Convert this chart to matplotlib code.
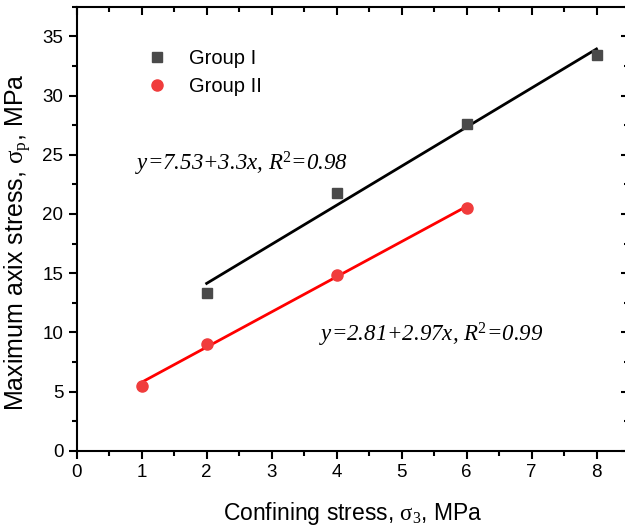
import matplotlib
matplotlib.use("Agg")
import matplotlib.pyplot as plt
import numpy as np
from matplotlib.ticker import MultipleLocator

plt.rcParams["font.family"] = ["Liberation Sans", "DejaVu Sans"]
plt.rcParams["mathtext.fontset"] = "custom"
plt.rcParams["mathtext.rm"] = "Liberation Serif"
plt.rcParams["mathtext.it"] = "Liberation Serif:italic"

# measured points
x_g1 = [2, 4, 6, 8]
y_g1 = [13.3, 21.8, 27.6, 33.4]
x_g2 = [1, 2, 4, 6]
y_g2 = [5.5, 9.0, 14.8, 20.5]

# linear fits: intercept, slope, R^2
fit_g1 = (7.53, 3.3, 0.98)
fit_g2 = (2.81, 2.97, 0.99)

fig = plt.figure(figsize=(6.25, 5.28), dpi=100)
ax = fig.add_axes([0.1227, 0.1464, 0.8837, 0.8409])

ax.plot(x_g1, y_g1, "s", color="#4a4a4a", markersize=7.5, label="Group I", zorder=3)
ax.plot(x_g2, y_g2, "o", color="#f03c3c", markersize=8, label="Group II", zorder=3)

xs = np.array([min(x_g1), max(x_g1)])
ax.plot(xs, fit_g1[0] + fit_g1[1] * xs, color="black", lw=2, zorder=2)
xs = np.array([min(x_g2), max(x_g2)])
ax.plot(xs, fit_g2[0] + fit_g2[1] * xs, color="#ff0000", lw=2, zorder=2)

eq_font = dict(family="Liberation Serif", style="italic", fontsize=16.5)
ax.text(0.9, 23.65, "y=%.2f+%.1fx, R$^{2}$=%.2f" % fit_g1, **eq_font)
ax.text(3.73, 9.2, "y=%.2f+%.2fx, R$^{2}$=%.2f" % fit_g2, **eq_font)

ax.set_xlim(0, 8.5)
ax.set_ylim(0, 37.5)
ax.xaxis.set_major_locator(MultipleLocator(1))
ax.xaxis.set_minor_locator(MultipleLocator(0.5))
ax.yaxis.set_major_locator(MultipleLocator(5))
ax.yaxis.set_minor_locator(MultipleLocator(2.5))

for s in ax.spines.values():
    s.set_linewidth(1.5)
ax.tick_params(which="both", direction="out", width=1.5, labelsize=13.5)
ax.tick_params(which="major", length=6)
ax.tick_params(which="minor", length=3.5)
ax.tick_params(axis="x", which="both", top=True)
ax.tick_params(axis="y", which="both", right=True)
# top and right ticks point inward
for t in ax.xaxis.get_major_ticks() + ax.xaxis.get_minor_ticks():
    t.tick2line.set_marker(matplotlib.lines.TICKDOWN)
for t in ax.yaxis.get_major_ticks() + ax.yaxis.get_minor_ticks():
    t.tick2line.set_marker(matplotlib.lines.TICKLEFT)

ax.set_xlabel(r"Confining stress, $\mathrm{\sigma_3}$, MPa", fontsize=16.5, labelpad=14)
ax.set_ylabel(r"Maximum axix stress, $\mathrm{\sigma_p}$, MPa", fontsize=18)
ax.yaxis.set_label_coords(-0.078, 0.47)

ax.legend(loc="upper left", bbox_to_anchor=(0.09, 0.945), frameon=False,
          fontsize=14.5, handletextpad=1.0, labelspacing=0.45, handlelength=1.2)

fig.savefig("out.png", dpi=100, facecolor="white")
